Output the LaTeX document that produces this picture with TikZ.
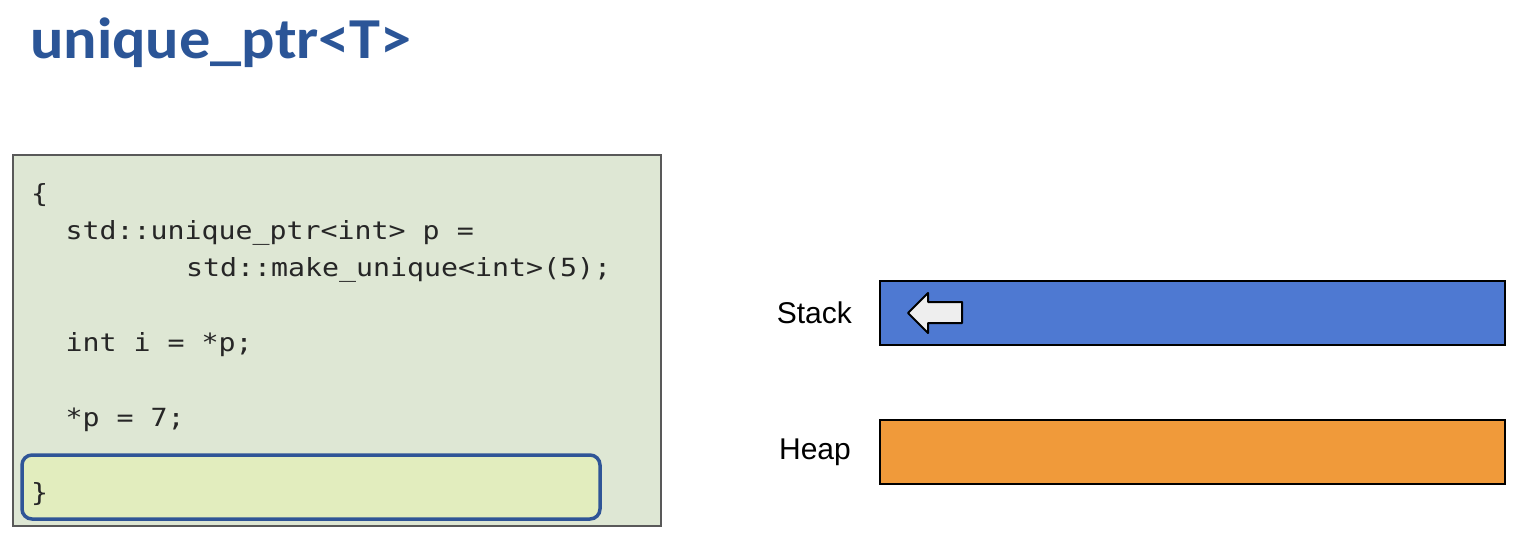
\documentclass[tikz,border=0pt]{standalone}
\usepackage{fontspec}
\setmainfont{Liberation Sans}
\newfontfamily\titlefont[FakeStretch=1.075]{Carlito}
\newfontfamily\codefont[FakeStretch=1.13]{DejaVu Sans Mono}
\definecolor{titleblue}{HTML}{2B5597}
\definecolor{codebg}{HTML}{DEE7D4}
\definecolor{hlfill}{HTML}{E2EDBE}
\definecolor{hlborder}{HTML}{2F5597}
\definecolor{stackblue}{HTML}{4E79D2}
\definecolor{heaporange}{HTML}{F09A3A}
\definecolor{arrowgrey}{HTML}{EEEEEE}
\tikzset{
  codeline/.style={anchor=base west, inner sep=0pt, font=\codefont\fontsize{25}{27}\selectfont, text=black!85},
  memlabel/.style={anchor=base east, inner sep=0pt, font=\fontsize{30}{32}\selectfont},
  membar/.style={draw=black, line width=2.8pt},
}
\begin{document}
\begin{tikzpicture}[x=1pt,y=-1pt]
\useasboundingbox (0,0) rectangle (1536,554);
% title
\node[anchor=base west, inner sep=0pt, text=titleblue,
      font=\titlefont\bfseries\fontsize{58}{60}\selectfont] (title) at (30,58) {unique\_ptr<T>};
% code panel
\draw[fill=codebg, draw=black!65, line width=1.3pt] (13,155) rectangle (661,526);
\node[draw=hlborder, fill=hlfill, line width=3.5pt, rounded corners=10pt,
      minimum width=578pt, minimum height=64pt, inner sep=0pt] (scopeend) at (311,487) {};
\def\cw{17.2}
\node[codeline] (l1) at (31,202) {\{};
\node[codeline] (l2) at ({31+2*\cw},239) {std::unique\_ptr<int> p =};
\node[codeline] (l3) at ({31+9*\cw},276) {std::make\_unique<int>(5);};
\node[codeline] (l4) at ({31+2*\cw},351) {int i = *p;};
\node[codeline] (l5) at ({31+2*\cw},426) {*p = 7;};
\node[codeline] (l6) at (31,501) {\}};
% memory regions
\node[memlabel] (stacklbl) at (852,323) {Stack};
\node[memlabel] (heaplbl) at (851,459) {Heap};
\node[membar, fill=stackblue, minimum width=625pt, minimum height=64pt, inner sep=0pt] (stack) at (1192.5,313) {};
\node[membar, fill=heaporange, minimum width=625pt, minimum height=64pt, inner sep=0pt] (heap) at (1192.5,452) {};
% pointer arrow inside the stack
\draw[fill=arrowgrey, draw=black, line width=2pt, line join=round]
  (908,313) -- (928,293) -- (928,302) -- (962,302) -- (962,323) -- (928,323) -- (928,333) -- cycle;
\end{tikzpicture}
\end{document}
